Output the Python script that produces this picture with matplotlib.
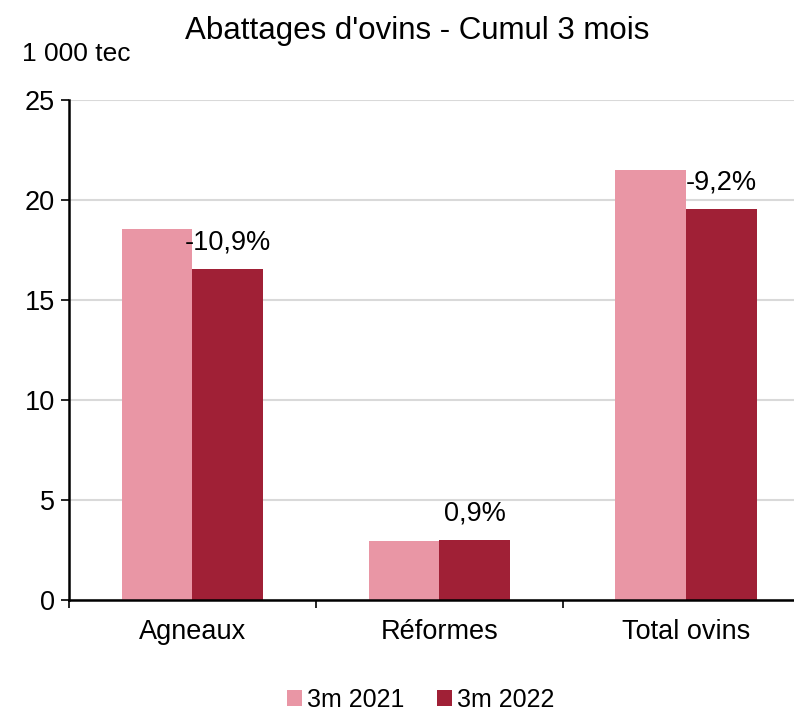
"""
Abattages d'ovins - cumul 3 mois, bar chart.
"""

import matplotlib.pyplot as plt
import numpy as np

plt.rcParams['font.family'] = ['Liberation Sans', 'DejaVu Sans']

categories = ["Agneaux", "Réformes", "Total ovins"]
series_names = ["3m 2021", "3m 2022"]
values_2021 = [18.55, 2.95, 21.5]
values_2022 = [16.55, 3.0, 19.55]
changes = ["-10,9%", "0,9%", "-9,2%"]

colors = ["#E996A5", "#A02036"]

fig = plt.figure(figsize=(7.94, 7.15), dpi=100)
ax = fig.add_axes([0.0869, 0.1608, 0.933, 0.6993])

x = np.arange(len(categories))
width = 0.287
ax.bar(x - width / 2, values_2021, width, color=colors[0], label=series_names[0], zorder=3)
bars22 = ax.bar(x + width / 2, values_2022, width, color=colors[1], label=series_names[1], zorder=3)

# variation labels above the 2022 bars
for rect, txt in zip(bars22, changes):
    ax.annotate(txt, (rect.get_x() + rect.get_width() / 2, rect.get_height()),
                xytext=(0, 27), textcoords='offset pixels',
                ha='center', va='center', fontsize=19.5)

ax.set_xlim(-0.5, 2.5)
ax.set_ylim(0, 25)
ax.set_yticks([0, 5, 10, 15, 20, 25])
ax.set_xticks([-0.5, 0.5, 1.5], minor=False)
ax.set_xticklabels([])
ax.set_xticks(x, minor=True)
ax.set_xticklabels(categories, minor=True)
ax.tick_params(axis='x', which='minor', length=0, pad=14, labelsize=19.5)
ax.tick_params(axis='x', which='major', length=6, width=1.2, direction='out')
ax.tick_params(axis='y', length=6, width=1.2, direction='out', labelsize=19.5, pad=4)

ax.grid(axis='y', color='#D9D9D9', linewidth=1.5, zorder=0)
for side in ['top', 'right']:
    ax.spines[side].set_visible(False)
for side in ['left', 'bottom']:
    ax.spines[side].set_linewidth(1.8)
    ax.spines[side].set_zorder(4)

fig.text(0.525, 0.956, "Abattages d'ovins - Cumul 3 mois", ha='center', va='center', fontsize=22.5)
fig.text(0.028, 0.925, "1 000 tec", ha='left', va='center', fontsize=19)

fig.legend(loc='center', bbox_to_anchor=(0.53, 0.021), ncol=2, frameon=False,
           fontsize=18, handlelength=0.6, handleheight=0.6, handletextpad=0.2,
           columnspacing=1.3)

fig.savefig("out.png", dpi=100)
